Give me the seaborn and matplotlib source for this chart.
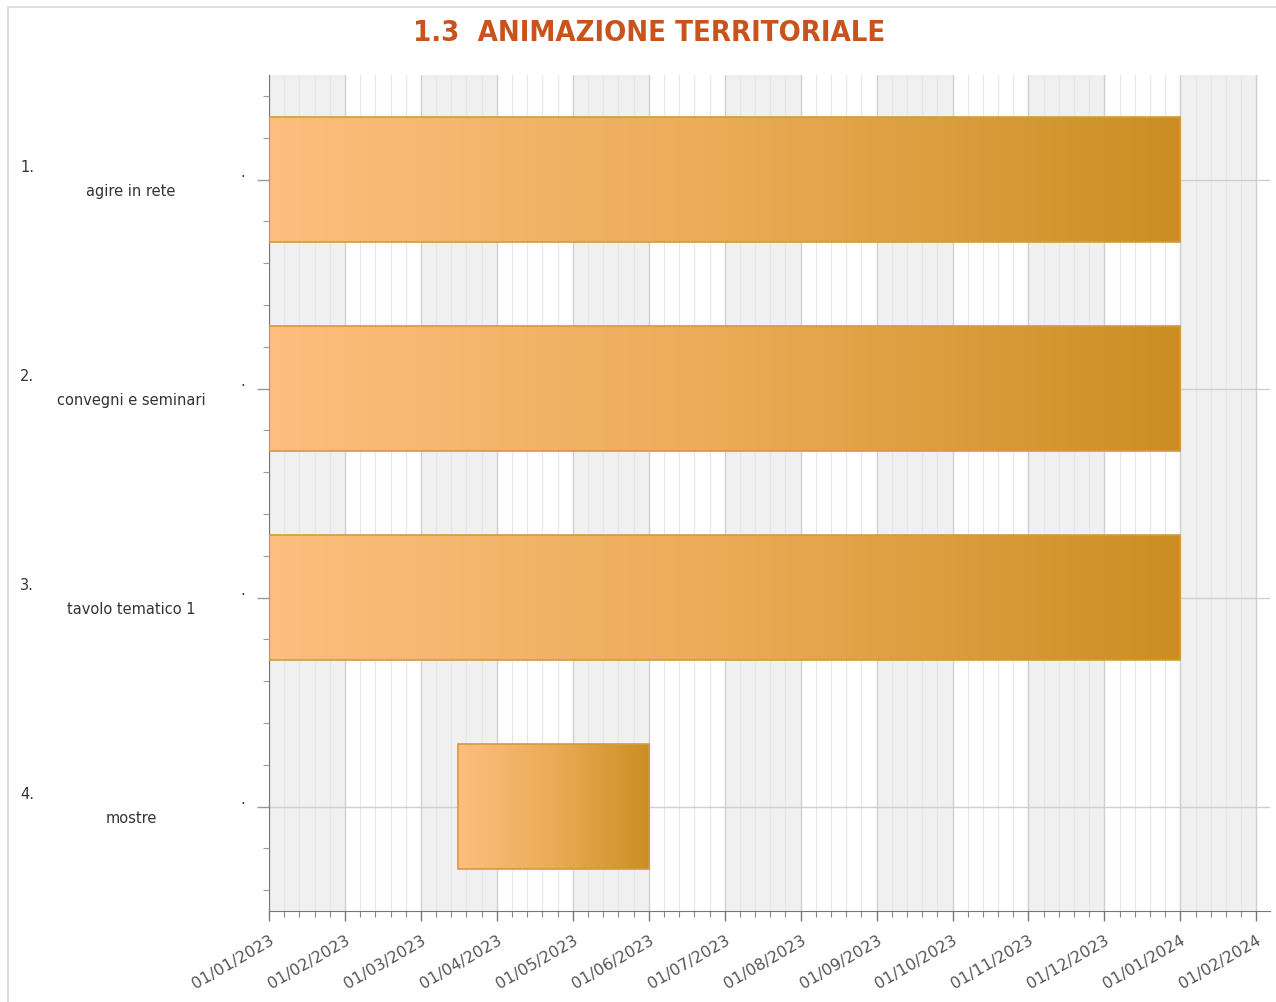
import calendar
import numpy as np
import pandas as pd
import matplotlib
matplotlib.use("Agg")
import matplotlib.pyplot as plt
import seaborn as sns
from matplotlib.patches import Rectangle
from matplotlib.colors import LinearSegmentedColormap
from matplotlib.transforms import blended_transform_factory
from matplotlib import font_manager

# data
task_numbers = ["1.", "2.", "3.", "4."]
tasks = ["agire in rete", "convegni e seminari", "tavolo tematico 1", "mostre"]
starts = ["01/01/2023", "01/01/2023", "01/01/2023", "16/03/2023"]
ends = ["01/01/2024", "01/01/2024", "01/01/2024", "01/06/2023"]
month_labels = ["01/01/2023", "01/02/2023", "01/03/2023", "01/04/2023", "01/05/2023",
                "01/06/2023", "01/07/2023", "01/08/2023", "01/09/2023", "01/10/2023",
                "01/11/2023", "01/12/2023", "01/01/2024", "01/02/2024"]


def month_pos(s):
    # the chart gives every month the same width
    d = pd.to_datetime(s, format="%d/%m/%Y")
    ndays = calendar.monthrange(d.year, d.month)[1]
    return (d.year - 2023) * 12 + (d.month - 1) + (d.day - 1) / ndays


df = pd.DataFrame({"task": tasks,
                   "start": [month_pos(s) for s in starts],
                   "end": [month_pos(s) for s in ends]})
df["dur"] = df["end"] - df["start"]

sns.set_style("white")
plt.rcParams['font.family'] = ['DejaVu Sans']

# condensed face for the title if there is one
names = {f.name for f in font_manager.fontManager.ttflist}
cond = [f for f in font_manager.fontManager.ttflist
        if "Condensed" in f.fname and "Bold" in f.fname and "Oblique" not in f.fname]
if "Liberation Sans Narrow" in names:
    title_font = dict(family="Liberation Sans Narrow", fontweight="bold")
elif cond:
    title_font = dict(fontproperties=font_manager.FontProperties(fname=cond[0].fname))
else:
    title_font = dict(family="DejaVu Sans", fontweight="bold")

fig = plt.figure(figsize=(12.76, 10.03), dpi=100)
ax = fig.add_axes([269/1276, 1 - 912/1003, 1001/1276, 836/1003])

# frame around the picture
fig.patches.append(Rectangle((8/1276, -0.01), 1.02, 1 - 8/1003 + 0.01, transform=fig.transFigure,
                             fill=False, edgecolor="#d8d8d8", lw=1.2))

# alternating month bands
for i in range(0, 14, 2):
    ax.axvspan(i, i + 1, color="#f0f0f0", zorder=0, lw=0)

ax.set_xticks(np.arange(len(month_labels)))
ax.set_xticks(np.arange(0, 13.2, 0.2), minor=True)
ax.set_xticklabels(month_labels, rotation=30, ha="right", rotation_mode="anchor",
                   fontsize=11.5, color="#555555")
ax.set_yticks(np.arange(len(tasks)))
ax.set_yticks(np.arange(-0.4, len(tasks) - 0.5, 0.2), minor=True)
ax.set_yticklabels([])

ax.grid(True, which="major", axis="both", color="#cfcfcf", lw=1.0, zorder=0.5)
ax.grid(True, which="minor", axis="x", color="#e6e6e6", lw=0.8, zorder=0.4)
ax.set_axisbelow(True)

ax.tick_params(axis="x", which="major", direction="out", length=7, width=1, color="#777777", pad=8)
ax.tick_params(axis="x", which="minor", direction="out", length=4, width=0.8, color="#888888")
ax.tick_params(axis="y", which="major", direction="out", length=9, width=1, color="#999999")
ax.tick_params(axis="y", which="minor", direction="out", length=4, width=0.8, color="#999999")
ax.tick_params(bottom=True, left=True, which="both")

for side in ["top", "right"]:
    ax.spines[side].set_visible(False)
ax.spines["left"].set_color("#777777")
ax.spines["bottom"].set_color("#777777")

# gantt bars with horizontal gradient
cmap = LinearSegmentedColormap.from_list("bar", ["#fdbe7e", "#ebab57", "#cb8e22"])
grad = np.linspace(0, 1, 256).reshape(1, -1)
bars = ax.barh(df.index, df["dur"], left=df["start"], height=0.595,
               facecolor="none", edgecolor="#d49a3e", lw=1.2, zorder=3)
for b in bars:
    x0, y0 = b.get_x(), b.get_y()
    w, h = b.get_width(), b.get_height()
    im = ax.imshow(grad, cmap=cmap, aspect="auto", extent=(x0, x0 + w, y0 + h, y0),
                   zorder=2.5, interpolation="bicubic")
    im.set_clip_path(b)
ax.set_xlim(0, 13.18)
ax.set_ylim(len(tasks) - 0.5, -0.5)

# category labels on the left
tr = blended_transform_factory(fig.transFigure, ax.transData)
for i, (num, name) in enumerate(zip(task_numbers, tasks)):
    ax.text(20/1276, i - 0.062, num, transform=tr, fontsize=10.5, color="#333333",
            ha="left", va="center")
    ax.text(131/1276, i + 0.053, name, transform=tr, fontsize=10.5, color="#333333",
            ha="center", va="center")
    ax.text(243/1276, i - 0.04, ".", transform=tr, fontsize=10.5, color="#333333",
            ha="center", va="center")

fig.text(649/1276, 1 - 33/1003, "1.3  ANIMAZIONE TERRITORIALE", ha="center", va="center",
         fontsize=21, color="#c9531c", **title_font)

fig.savefig("out.png", dpi=100)
